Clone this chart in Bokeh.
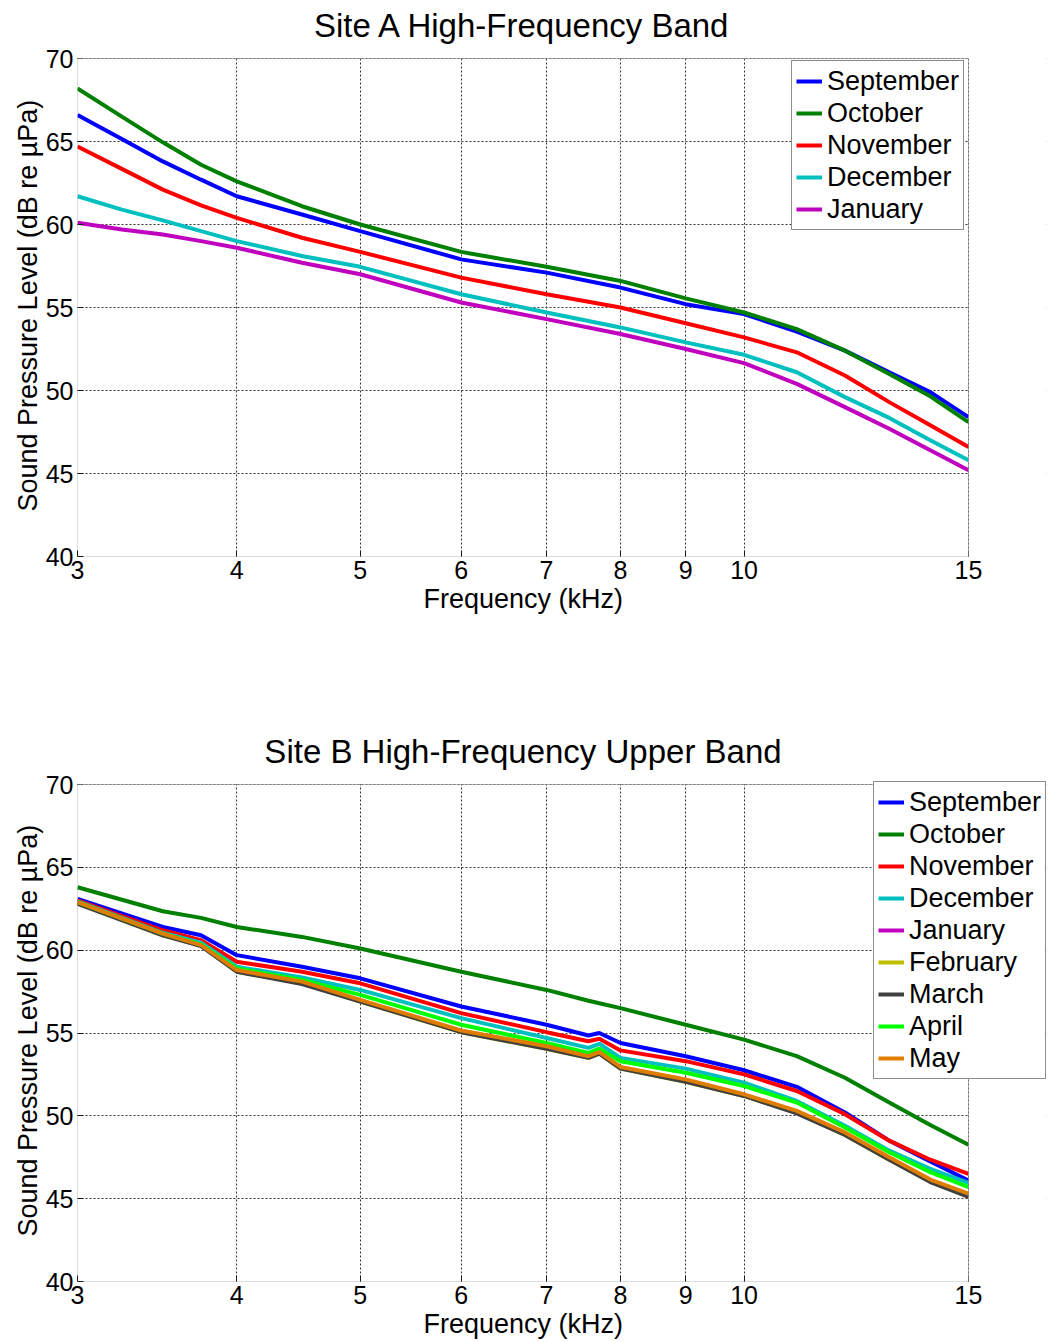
from bokeh.plotting import figure
from bokeh.layouts import column
from bokeh.models import (Range1d, FixedTicker, PrintfTickFormatter, Legend,
                          LegendItem, BoxAnnotation, Label, Title)
from bokeh.embed import file_html
from bokeh.resources import INLINE

# ---------------- data ----------------
freq_a = [3, 3.25, 3.5, 3.75, 4, 4.5, 5, 6, 7, 8, 9, 10, 11, 12, 13, 14, 15]
a_september = [66.6, 65.15, 63.8, 62.7, 61.7, 60.6, 59.6, 57.9, 57.1, 56.2, 55.2, 54.6, 53.55, 52.4, 51.1, 49.9, 48.4]
a_october   = [68.2, 66.5, 64.95, 63.6, 62.6, 61.1, 60.0, 58.35, 57.45, 56.6, 55.55, 54.7, 53.7, 52.4, 51.0, 49.65, 48.1]
a_november  = [64.7, 63.35, 62.1, 61.15, 60.4, 59.2, 58.35, 56.8, 55.8, 55.0, 54.05, 53.2, 52.3, 50.9, 49.3, 47.9, 46.6]
a_december  = [61.7, 60.9, 60.25, 59.6, 59.0, 58.1, 57.45, 55.8, 54.7, 53.8, 52.9, 52.15, 51.1, 49.6, 48.35, 47.0, 45.8]
a_january   = [60.1, 59.7, 59.4, 59.0, 58.6, 57.7, 57.0, 55.3, 54.3, 53.4, 52.5, 51.65, 50.4, 49.0, 47.7, 46.4, 45.2]

freq_b = [3, 3.5, 3.75, 4, 4.5, 5, 6, 7, 7.55, 7.7, 8, 9, 10, 11, 12, 13, 14, 15]
b_september = [63.1, 61.4, 60.9, 59.7, 59.0, 58.3, 56.6, 55.5, 54.85, 55.0, 54.4, 53.6, 52.75, 51.75, 50.2, 48.5, 47.25, 46.1]
b_october   = [63.8, 62.35, 61.95, 61.4, 60.8, 60.1, 58.7, 57.6, 56.95, 56.8, 56.5, 55.5, 54.6, 53.6, 52.3, 50.8, 49.45, 48.25]
b_november  = [63.0, 61.2, 60.6, 59.3, 58.7, 58.0, 56.2, 55.05, 54.5, 54.65, 53.95, 53.3, 52.5, 51.5, 50.1, 48.5, 47.35, 46.5]
b_december  = [62.95, 61.05, 60.45, 59.0, 58.35, 57.6, 55.9, 54.7, 54.1, 54.35, 53.5, 52.85, 52.0, 50.9, 49.4, 47.9, 46.8, 45.95]
b_january   = [62.85, 60.95, 60.3, 58.75, 58.0, 56.95, 55.1, 54.1, 53.55, 53.8, 52.9, 52.1, 51.25, 50.2, 48.9, 47.4, 46.1, 45.2]
b_february  = [62.85, 60.9, 60.3, 58.7, 58.0, 56.9, 55.05, 54.05, 53.5, 53.75, 52.85, 52.05, 51.2, 50.2, 48.85, 47.35, 46.05, 45.15]
b_march     = [62.8, 60.9, 60.25, 58.7, 57.95, 56.9, 55.05, 54.05, 53.5, 53.75, 52.85, 52.05, 51.2, 50.15, 48.85, 47.35, 46.0, 45.1]
b_april     = [62.9, 61.0, 60.35, 58.9, 58.2, 57.3, 55.5, 54.4, 53.8, 54.05, 53.3, 52.6, 51.8, 50.8, 49.3, 47.8, 46.6, 45.7]
b_may       = [62.9, 61.0, 60.3, 58.8, 58.1, 57.0, 55.15, 54.2, 53.6, 53.85, 52.95, 52.2, 51.3, 50.3, 49.0, 47.5, 46.15, 45.3]

x_ticks = [3, 4, 5, 6, 7, 8, 9, 10, 15]
y_ticks = [40, 45, 50, 55, 60, 65, 70]
X_MIN, X_MAX = 3, 15
Y_MIN, Y_MAX = 40, 70

COLORS = {
    "September": "#0000FF", "October": "#008000", "November": "#FF0000",
    "December": "#00BFBF", "January": "#BF00BF", "February": "#BFBF00",
    "March": "#404040", "April": "#00FF00", "May": "#DE7D00",
}

FONT = "Liberation Sans"
AXC = "#1a1a1a"
W = 1050
LEFT = 77          # axes box left edge (px)
FRAME_W = 891      # axes box width (px), 3..15 kHz
EXTRA = 78         # hidden frame area right of 15 kHz (legend may overhang)
TOP = 58           # hidden frame area above 70 dB (holds the title)
TITLE_Y = 25       # title centre, px below the figure top
XLAB_OFFSET = 346  # start of the x-axis title, px right of the axes box
YLAB_OFFSET = 45   # start of the y-axis title, px above the frame bottom


def make_fig(title, height, plot_h):
    x_end = X_MIN * (X_MAX / X_MIN) ** ((FRAME_W + EXTRA) / FRAME_W)
    y_end = Y_MAX + TOP * (Y_MAX - Y_MIN) / plot_h
    bottom = height - TOP - plot_h
    p = figure(width=W, height=height, x_axis_type="log",
               x_range=Range1d(X_MIN, x_end), y_range=Range1d(Y_MIN, y_end),
               output_backend="svg", toolbar_location=None, title=None,
               min_border_left=LEFT, min_border_right=W - LEFT - FRAME_W - EXTRA,
               min_border_top=0, min_border_bottom=bottom)
    p.background_fill_color = "white"
    p.border_fill_color = "white"
    p.outline_line_color = None

    p.xaxis.ticker = FixedTicker(ticks=x_ticks)
    p.xaxis.formatter = PrintfTickFormatter(format="%d")
    p.yaxis.ticker = FixedTicker(ticks=y_ticks)
    for ax in (p.xaxis, p.yaxis):
        ax.major_tick_in = 6
        ax.major_tick_out = 0
        ax.minor_tick_line_color = None
        ax.axis_line_color = None
        ax.major_tick_line_color = AXC
        ax.major_label_text_font = FONT
        ax.major_label_text_font_size = "25px"
        ax.major_label_text_color = "black"
        ax.axis_label = None
    p.xaxis.major_label_standoff = 4
    p.yaxis.major_label_standoff = 4

    # axis titles, placed so they are centred on the visible axes box
    p.add_layout(Title(text="Frequency (kHz)", align="left", offset=XLAB_OFFSET,
                       standoff=0, text_font=FONT, text_font_size="27px",
                       text_font_style="normal", text_color="black"), "below")
    p.add_layout(Title(text="Sound Pressure Level (dB re \u00b5Pa)", align="left",
                       offset=YLAB_OFFSET, standoff=0, text_font=FONT,
                       text_font_size="27px", text_font_style="normal",
                       text_color="black"), "left")

    for g in (p.xgrid, p.ygrid):
        g.grid_line_color = "#333333"
        g.grid_line_dash = "2 2"
        g.grid_line_width = 1

    # white covers for the hidden areas, then the axes box and the title
    p.add_layout(BoxAnnotation(left=X_MAX, fill_color="white", fill_alpha=1.0,
                               line_alpha=0))
    p.add_layout(BoxAnnotation(bottom=Y_MAX, fill_color="white", fill_alpha=1.0,
                               line_alpha=0))
    p.add_layout(BoxAnnotation(left=X_MIN, right=X_MAX, bottom=Y_MIN, top=Y_MAX,
                               fill_alpha=0, line_color=AXC, line_width=1))
    p.add_layout(Label(x=(X_MIN * X_MAX) ** 0.5,
                       y=y_end - TITLE_Y * (Y_MAX - Y_MIN) / plot_h,
                       text=title, text_font=FONT, text_font_size="33px",
                       text_color="black", text_align="center",
                       text_baseline="middle"))
    return p


def add_legend(p, items, location):
    leg = Legend(items=items, location=location)
    leg.label_text_font = FONT
    leg.label_text_font_size = "27px"
    leg.label_text_color = "black"
    leg.label_height = 32
    leg.glyph_height = 32
    leg.glyph_width = 26
    leg.label_standoff = 5
    leg.spacing = 0
    leg.padding = 4
    leg.margin = 0
    leg.border_line_color = AXC
    leg.border_line_width = 1
    leg.background_fill_color = "white"
    leg.background_fill_alpha = 1.0
    p.add_layout(leg, "center")


# ---------------- Site A ----------------
p1 = make_fig("Site A High-Frequency Band", 726, 498)
series_a = [("September", a_september), ("October", a_october),
            ("November", a_november), ("December", a_december),
            ("January", a_january)]
items_a = []
for name, vals in series_a:
    r = p1.line(freq_a, vals, line_color=COLORS[name], line_width=4)
    items_a.append(LegendItem(label=name, renderers=[r]))
add_legend(p1, items_a, (714, 326))

# ---------------- Site B ----------------
p2 = make_fig("Site B High-Frequency Upper Band", 616, 497)
series_b = [("September", b_september), ("October", b_october),
            ("November", b_november), ("December", b_december),
            ("January", b_january), ("February", b_february),
            ("March", b_march), ("April", b_april), ("May", b_may)]
items_b = []
for name, vals in series_b:
    r = p2.line(freq_b, vals, line_color=COLORS[name], line_width=4)
    items_b.append(LegendItem(label=name, renderers=[r]))
add_legend(p2, items_b, (796, 202))

layout = column(p1, p2, spacing=0)
open("out.html", "w").write(file_html(layout, INLINE))
